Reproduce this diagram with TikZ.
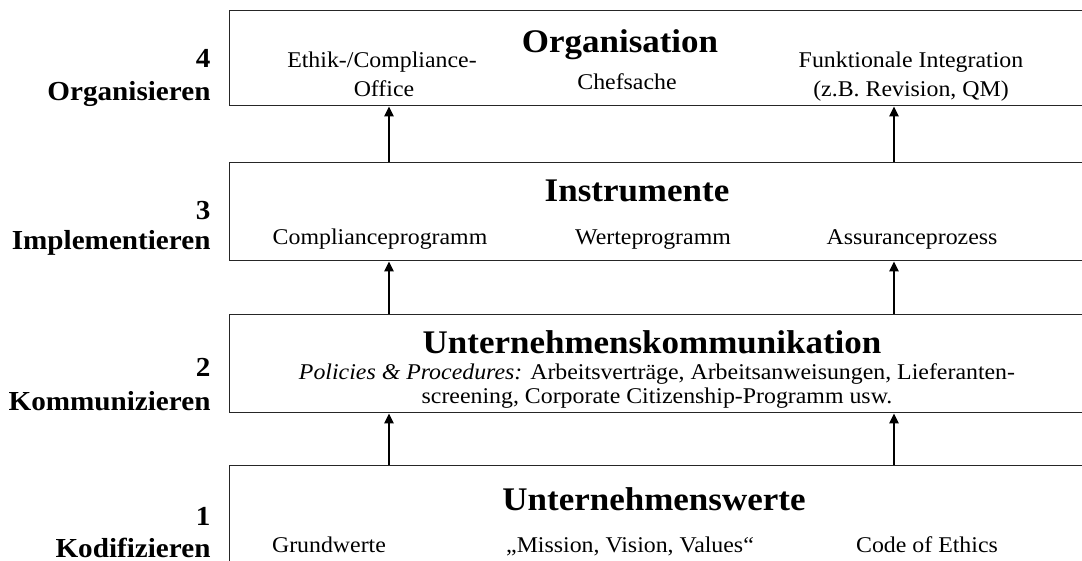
\documentclass[tikz,border=0pt]{standalone}
\usepackage{fontspec}
\setmainfont[FakeStretch=1.06]{Liberation Serif}
\usetikzlibrary{arrows.meta}

\tikzset{
  ebene/.style={draw=black!85, line width=1.4pt, anchor=north west,
    minimum width=900pt, inner sep=0pt},
  titel/.style={font=\fontsize{33}{36}\selectfont\bfseries, anchor=base},
  eintrag/.style={font=\fontsize{22.5}{26}\selectfont, anchor=base},
  stufe/.style={font=\fontsize{27.5}{30}\selectfont\bfseries, anchor=base east},
  pfeil/.style={line width=2.6pt, -{Triangle[length=10pt,width=9pt]}}
}

\begin{document}
\begin{tikzpicture}[x=1pt,y=-1pt]
    \useasboundingbox (0,0) rectangle (1082,561);
    \clip (0,0) rectangle (1082,561);

    % Ebenen (Kasten)
    \node[ebene, minimum height=95pt] (org) at (229,10) {};
    \node[ebene, minimum height=98pt] (instr) at (229,162) {};
    \node[ebene, minimum height=98pt] (komm) at (229,314) {};
    \node[ebene, minimum height=110pt] (werte) at (229,465) {};

    % Stufen links
    \node[stufe] (s4) at (214,68) {4};
    \node[stufe] (s4txt) at (214,101) {Organisieren};
    \node[stufe] (s3) at (214,220) {3};
    \node[stufe] (s3txt) at (214,250) {Implementieren};
    \node[stufe] (s2) at (214,377) {2};
    \node[stufe] (s2txt) at (214,410) {Kommunizieren};
    \node[stufe] (s1) at (214,525) {1};
    \node[stufe] (s1txt) at (214,557) {Kodifizieren};

    % Ebene 4
    \node[titel] (orgtit) at (620,53) {Organisation};
    \node[eintrag] (chef) at (627,90) {Chefsache};
    \node[eintrag] (ethik) at (382,68) {Ethik-/Compliance-};
    \node[eintrag] (office) at (384,97) {Office};
    \node[eintrag] (funkt) at (911,68) {Funktionale Integration};
    \node[eintrag] (revis) at (911,97) {(z.B. Revision, QM)};

    % Ebene 3
    \node[titel] (instrtit) at (637,202) {Instrumente};
    \node[eintrag] (cprog) at (380,245) {Complianceprogramm};
    \node[eintrag] (wprog) at (653,245) {Werteprogramm};
    \node[eintrag] (assur) at (912,245) {Assuranceprozess};

    % Ebene 2
    \node[titel] (kommtit) at (652,353) {Unternehmenskommunikation};
    \node[eintrag] (pol1) at (657,380) {\textit{Policies \& Procedures:} Arbeitsverträge, Arbeitsanweisungen, Lieferanten-};
    \node[eintrag] (pol2) at (657,403) {screening, Corporate Citizenship-Programm usw.};

    % Ebene 1
    \node[titel] (wertetit) at (654,510) {Unternehmenswerte};
    \node[eintrag] (grund) at (329,552) {Grundwerte};
    \node[eintrag] (mvv) at (630,552) {„Mission, Vision, Values“};
    \node[eintrag] (code) at (927,552) {Code of Ethics};

    % Pfeile
    \coordinate (links) at (389,0);
    \coordinate (rechts) at (894,0);
    \foreach \von/\nach in {werte/komm, komm/instr, instr/org} {
      \draw[pfeil] (\von.north -| links) -- (\nach.south -| links);
      \draw[pfeil] (\von.north -| rechts) -- (\nach.south -| rechts);
    }
\end{tikzpicture}
\end{document}
